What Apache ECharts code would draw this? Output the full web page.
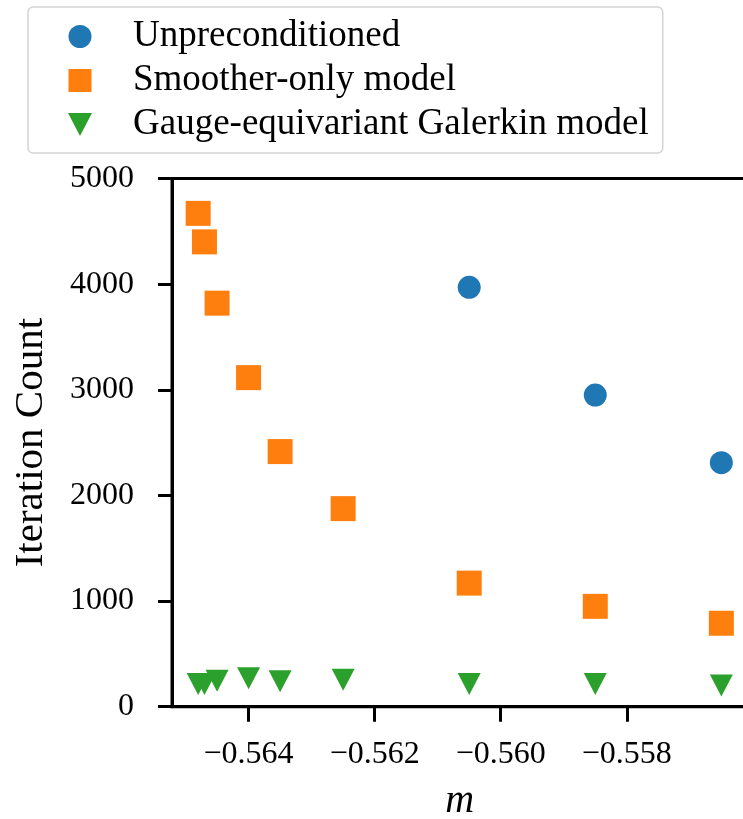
<!DOCTYPE html>
<html>
<head>
<meta charset="utf-8">
<script src="https://cdn.jsdelivr.net/npm/echarts@6/dist/echarts.min.js"></script>
<style>
  html, body { margin: 0; padding: 0; background: #ffffff; }
  #chart { width: 743px; height: 819px; }
</style>
</head>
<body>
<div id="chart"></div>
<script>
// Bare mass parameter m for each run
const massValues = [-0.5648, -0.5647, -0.5645, -0.5640, -0.5635, -0.5625, -0.5605, -0.5585, -0.5565];
// Iteration counts with the smoother-only preconditioner
const smootherCounts = [4670, 4400, 3820, 3115, 2415, 1875, 1170, 950, 790];
// Iteration counts with the gauge-equivariant Galerkin preconditioner
const galerkinCounts = [215, 215, 245, 270, 240, 255, 215, 215, 200];
// Unpreconditioned solver only converged for the heavier masses
const unprecMass = [-0.5605, -0.5585, -0.5565];
const unprecCounts = [3970, 2950, 2310];

// Axis ticks
const xTickValues = [-0.564, -0.562, -0.560, -0.558];
const yTickMax = 5000;
const yTickStep = 1000;

const seriesNames = ['Unpreconditioned', 'Smoother-only model', 'Gauge-equivariant Galerkin model'];

const FONT = '"Liberation Serif", "DejaVu Serif", serif';
const TRI_DOWN = 'path://M0,0L2,0L1,1.9Z';
const SQUARE = 'path://M0,0L1,0L1,1L0,1Z';
const CIRCLE = 'circle';

const zip = (xs, ys) => xs.map((x, i) => [x, ys[i]]);

// Data limits padded by 5% on each side
const xLo = Math.min(...massValues), xHi = Math.max(...massValues);
const pad = (xHi - xLo) * 0.05;

const chart = echarts.init(document.getElementById('chart'), null, { renderer: 'canvas' });

chart.setOption({
  animation: false,
  backgroundColor: '#ffffff',
  grid: {
    left: 172, top: 178.5, width: 575.5, height: 528.2,
    show: true, borderColor: '#000', borderWidth: 3, backgroundColor: 'transparent',
    containLabel: false, outerBoundsMode: 'none'
  },
  legend: {
    orient: 'vertical', left: 28, top: 7,
    padding: [11, 14, 10, 40],
    itemGap: 7, itemWidth: 24, itemHeight: 23, symbolKeepAspect: true,
    backgroundColor: '#ffffff', borderColor: '#d4d4d4', borderWidth: 1.5, borderRadius: 5,
    textStyle: { fontFamily: FONT, fontSize: 37, lineHeight: 37, color: '#000', padding: [0, 0, 0, 36] },
    data: [
      { name: seriesNames[0], icon: CIRCLE },
      { name: seriesNames[1], icon: SQUARE },
      { name: seriesNames[2], icon: TRI_DOWN }
    ]
  },
  xAxis: {
    type: 'value', min: xLo - pad, max: xHi + pad,
    splitLine: { show: false },
    axisLine: { onZero: false, lineStyle: { color: '#000', width: 3 } },
    axisTick: { customValues: xTickValues, length: 15, lineStyle: { color: '#000', width: 3 } },
    axisLabel: {
      customValues: xTickValues, margin: 32, color: '#000',
      fontFamily: FONT, fontSize: 32,
      formatter: v => (v < 0 ? '\u2212' : '') + Math.abs(v).toFixed(3)
    },
    name: 'm', nameLocation: 'middle', nameGap: 75,
    nameTextStyle: { fontFamily: FONT, fontStyle: 'italic', fontSize: 40, color: '#000' }
  },
  yAxis: {
    type: 'value', min: 0, max: yTickMax, interval: yTickStep,
    splitLine: { show: false },
    axisLine: { onZero: false, lineStyle: { color: '#000', width: 3 } },
    axisTick: { length: 14, lineStyle: { color: '#000', width: 3 } },
    axisLabel: { margin: 38, color: '#000', fontFamily: FONT, fontSize: 32, formatter: v => String(v) },
    name: 'Iteration Count', nameLocation: 'middle', nameGap: 120,
    nameTextStyle: { fontFamily: FONT, fontSize: 41, color: '#000' }
  },
  series: [
    {
      name: seriesNames[0], type: 'scatter', symbol: CIRCLE, symbolSize: 23,
      itemStyle: { color: '#1f77b4', opacity: 1 },
      data: zip(unprecMass, unprecCounts)
    },
    {
      name: seriesNames[1], type: 'scatter', symbol: 'rect', symbolSize: 25,
      itemStyle: { color: '#ff7f0e', opacity: 1 },
      data: zip(massValues, smootherCounts)
    },
    {
      name: seriesNames[2], type: 'scatter', symbol: TRI_DOWN, symbolSize: [23, 22],
      itemStyle: { color: '#2ca02c', opacity: 1 },
      data: zip(massValues, galerkinCounts)
    }
  ]
});
</script>
</body>
</html>
